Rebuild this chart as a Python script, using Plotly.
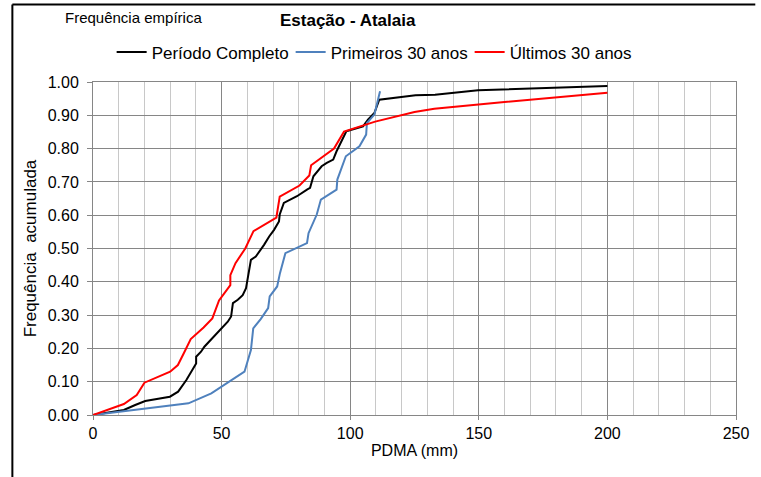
import plotly.graph_objects as go

# Data
completo_x = [0, 12, 16.4, 20.3, 29.9, 33.1, 36.3, 38.2, 40.1, 40.1, 42, 43.3, 47.5, 52.4, 53.7, 54.4, 56.3, 58.2, 59.5,
              60.1, 61.4, 63.3, 65.2, 66.5, 68.5, 70.4, 72.3, 72.6, 74.2, 79.3, 83.2, 84.4, 85.7, 87.7, 88.9, 90.9,
              93.4, 94.7, 96, 97.9, 98.5, 105, 106.9, 109.4, 111.3, 125.4, 133, 149.7, 200]
completo_y = [0, 0.015, 0.03, 0.042, 0.055, 0.07, 0.105, 0.13, 0.155, 0.175, 0.19, 0.205, 0.24, 0.28, 0.296, 0.336,
              0.346, 0.36, 0.381, 0.411, 0.466, 0.476, 0.496, 0.511, 0.536, 0.556, 0.581, 0.602, 0.637, 0.657, 0.677,
              0.682, 0.717, 0.737, 0.747, 0.757, 0.767, 0.792, 0.812, 0.842, 0.852, 0.867, 0.887, 0.907, 0.947,
              0.96, 0.962, 0.975, 0.988]

primeiros_x = [0, 37.1, 46, 58.9, 61.4, 62.3, 65.2, 68.1, 68.7, 71.6, 72.7, 74.8, 83.2, 83.8, 87, 88.6, 94.7, 95,
               98.3, 103.6, 106.2, 106.5, 109.4, 110.7, 111.6]
primeiros_y = [0, 0.035, 0.065, 0.13, 0.195, 0.26, 0.288, 0.321, 0.356, 0.386, 0.426, 0.486, 0.516, 0.546, 0.602,
               0.647, 0.677, 0.707, 0.777, 0.807, 0.842, 0.877, 0.902, 0.942, 0.972]

ultimos_x = [0, 12, 17, 20, 30, 33, 35.4, 38, 43, 46.4, 49, 53.4, 53.4, 55.4, 59.2, 62.4, 71.3, 72.6, 80.3, 84.1,
             84.8, 93.7, 97.6, 109.7, 125, 132.7, 160, 200]
ultimos_y = [0, 0.033, 0.06, 0.097, 0.13, 0.15, 0.187, 0.228, 0.263, 0.29, 0.344, 0.39, 0.42, 0.456, 0.5, 0.552,
             0.593, 0.656, 0.689, 0.719, 0.75, 0.80, 0.851, 0.881, 0.91, 0.92, 0.94, 0.968]

x_ticks = [0, 50, 100, 150, 200, 250]
y_ticks = [0, 0.1, 0.2, 0.3, 0.4, 0.5, 0.6, 0.7, 0.8, 0.9, 1.0]

FONT = "Arial, Liberation Sans, sans-serif"

fig = go.Figure()
fig.add_trace(go.Scatter(x=completo_x, y=completo_y, mode="lines", name="Período Completo",
                         line=dict(color="#000000", width=2)))
fig.add_trace(go.Scatter(x=primeiros_x, y=primeiros_y, mode="lines", name="Primeiros 30 anos",
                         line=dict(color="#4f81bd", width=2)))
fig.add_trace(go.Scatter(x=ultimos_x, y=ultimos_y, mode="lines", name="Últimos 30 anos",
                         line=dict(color="#ff0000", width=2)))

fig.update_layout(
    width=761, height=477,
    margin=dict(l=93, r=18, t=82, b=62),
    paper_bgcolor="white", plot_bgcolor="white",
    font=dict(family=FONT, size=12, color="#000000"),
    showlegend=True,
    legend=dict(orientation="h", x=0.029, xanchor="left", y=1.089, yanchor="middle",
                font=dict(size=17), entrywidth=134, entrywidthmode="pixels",
                bgcolor="rgba(0,0,0,0)", itemwidth=30),
    xaxis=dict(range=[0, 250], tickvals=x_ticks, ticks="outside", ticklen=4, tickcolor="#868686",
               showgrid=True, gridcolor="#868686", gridwidth=1,
               minor=dict(dtick=10, showgrid=True, gridcolor="#c8c8c8", gridwidth=1),
               showline=True, linecolor="#868686", linewidth=1, mirror=True, zeroline=False,
               tickfont=dict(size=16),
               title=dict(text="PDMA (mm)", font=dict(size=16), standoff=3)),
    yaxis=dict(range=[0, 1.0], tickvals=y_ticks, tickformat=".2f", ticks="outside", ticklen=5,
               tickcolor="#868686", ticklabelstandoff=5,
               showgrid=True, gridcolor="#868686", gridwidth=1,
               showline=True, linecolor="#868686", linewidth=1, mirror=True, zeroline=False,
               tickfont=dict(size=16),
               title=dict(text="Frequência  acumulada", font=dict(size=17), standoff=6)),
)

fig.add_annotation(text="Frequência empírica", xref="paper", yref="paper", x=-0.047, y=1.194,
                   xanchor="left", yanchor="middle", showarrow=False, font=dict(size=15))
fig.add_annotation(text="<b>Estação - Atalaia</b>", xref="paper", yref="paper", x=0.396, y=1.185,
                   xanchor="center", yanchor="middle", showarrow=False, font=dict(size=17))

# outer frame
fig.add_shape(type="line", xref="paper", yref="paper", x0=-0.1254, x1=-0.1254, y0=1.233, y1=-0.2,
              line=dict(color="#000000", width=2))
fig.add_shape(type="line", xref="paper", yref="paper", x0=-0.1254, x1=1.03, y0=1.233, y1=1.233,
              line=dict(color="#000000", width=2))

fig.write_html("out.html")
